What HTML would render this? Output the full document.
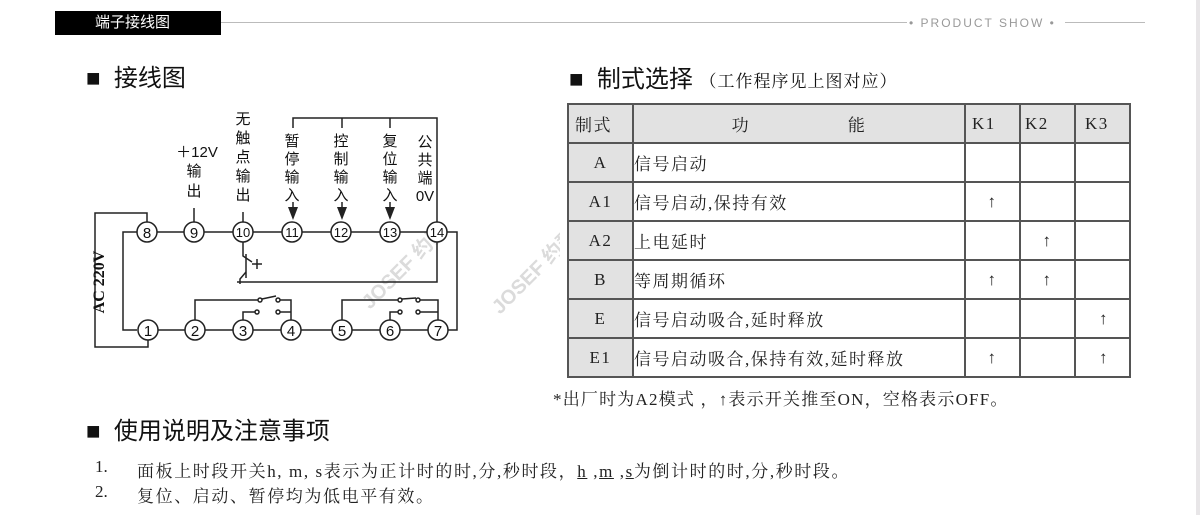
<!DOCTYPE html>
<html><head><meta charset="utf-8"><style>
body{margin:0;width:1200px;height:515px;background:#fff;position:relative;overflow:hidden;font-family:"Liberation Sans","Noto Sans CJK SC",sans-serif;}
.a{position:absolute;white-space:nowrap;}
.serif{font-family:"Liberation Serif","Noto Serif CJK SC",serif;}
table{position:absolute;left:567px;top:103px;border-collapse:collapse;table-layout:fixed;width:562px;font-family:"Liberation Serif","Noto Serif CJK SC",serif;font-size:17px;color:#222;letter-spacing:1.5px;}
td{border:2px solid #555;height:37px;padding:0;overflow:hidden;white-space:nowrap;}
</style></head><body>
<div class="a" style="left:55px;top:11px;width:166px;height:24px;background:#000;color:#fff;font-size:15px;line-height:24px;text-indent:40px;">端子接线图</div>
<div class="a" style="left:221px;top:22px;width:686px;height:1px;background:#bbb"></div>
<div class="a" style="left:909px;top:16px;color:#999;font-size:12px;letter-spacing:2px;">• PRODUCT SHOW •</div>
<div class="a" style="left:1065px;top:22px;width:80px;height:1px;background:#bbb"></div>
<div class="a" style="left:1196px;top:0;width:4px;height:515px;background:#e8e6e8"></div>

<div class="a" style="left:86px;top:58px;font-size:24px;color:#111">■&nbsp; 接线图</div>
<div class="a" style="left:569px;top:59px;font-size:24px;color:#111">■&nbsp; 制式选择 <span class="serif" style="font-size:17px;letter-spacing:1px">（工作程序见上图对应）</span></div>
<div class="a" style="left:86px;top:411px;font-size:24px;color:#111">■&nbsp; 使用说明及注意事项</div>

<svg class="a" style="left:0;top:0" width="560" height="400" font-family="Liberation Sans,Noto Sans CJK SC,sans-serif" font-size="15" fill="none" stroke="#222" stroke-width="1.5">
<g fill="#ccc" stroke="none" font-size="20" font-weight="bold" opacity="0.7">
<text transform="translate(370,310) rotate(-45)">JOSEF 约瑟</text>
<text transform="translate(500,315) rotate(-45)">JOSEF 约瑟</text>
</g>
<polyline points="147,222 147,213 95,213 95,347 148,347 148,340"/>
<polyline points="137,232 123,232 123,330 137,330"/>
<polyline points="447,232 457,232 457,330 448,330"/>
<line x1="157" y1="232" x2="184" y2="232"/><line x1="204" y1="232" x2="233" y2="232"/><line x1="253" y1="232" x2="282" y2="232"/><line x1="302" y1="232" x2="331" y2="232"/><line x1="351" y1="232" x2="380" y2="232"/><line x1="400" y1="232" x2="427" y2="232"/>
<line x1="158" y1="330" x2="185" y2="330"/><line x1="205" y1="330" x2="233" y2="330"/><line x1="253" y1="330" x2="281" y2="330"/><line x1="301" y1="330" x2="332" y2="330"/><line x1="352" y1="330" x2="380" y2="330"/><line x1="400" y1="330" x2="428" y2="330"/>
<polyline points="293,128 293,118 437,118 437,222"/>
<line x1="342" y1="118" x2="342" y2="128"/><line x1="390" y1="118" x2="390" y2="128"/>
<line x1="293" y1="202" x2="293" y2="210"/><line x1="342" y1="202" x2="342" y2="210"/><line x1="390" y1="202" x2="390" y2="210"/>
<g fill="#222" stroke="none"><polygon points="288,207 298,207 293,220"/><polygon points="337,207 347,207 342,220"/><polygon points="385,207 395,207 390,220"/></g>
<line x1="194" y1="208" x2="194" y2="222"/><line x1="243" y1="212" x2="243" y2="222"/>
<polyline points="243,242 243,256 252,262"/><line x1="246" y1="254" x2="246" y2="278"/><polyline points="246,272 240,279 240,284"/>
<line x1="252" y1="264" x2="262" y2="264"/><line x1="257" y1="259" x2="257" y2="269"/>
<polyline points="237,282 437,282 437,242"/>
<polyline points="195,320 195,300 258,300"/><circle cx="260" cy="300" r="2"/><line x1="262" y1="299" x2="276" y2="296"/><circle cx="278" cy="300" r="2"/><polyline points="280,300 291,300 291,320"/>
<polyline points="243,320 243,312 255,312"/><circle cx="257" cy="312" r="2"/><circle cx="278" cy="312" r="2"/><line x1="280" y1="312" x2="291" y2="312"/>
<polyline points="342,320 342,300 398,300"/><circle cx="400" cy="300" r="2"/><line x1="402" y1="299" x2="416" y2="298"/><circle cx="418" cy="300" r="2"/><polyline points="420,300 438,300 438,320"/>
<polyline points="390,320 390,312 398,312"/><circle cx="400" cy="312" r="2"/><circle cx="418" cy="312" r="2"/><line x1="420" y1="312" x2="438" y2="312"/>
<g fill="#fff" stroke="#222" stroke-width="1.5">
<circle cx="147" cy="232" r="10"/><circle cx="194" cy="232" r="10"/><circle cx="243" cy="232" r="10"/><circle cx="292" cy="232" r="10"/><circle cx="341" cy="232" r="10"/><circle cx="390" cy="232" r="10"/><circle cx="437" cy="232" r="10"/>
<circle cx="148" cy="330" r="10"/><circle cx="195" cy="330" r="10"/><circle cx="243" cy="330" r="10"/><circle cx="291" cy="330" r="10"/><circle cx="342" cy="330" r="10"/><circle cx="390" cy="330" r="10"/><circle cx="438" cy="330" r="10"/>
</g>
<g fill="#111" stroke="none" font-size="15" text-anchor="middle">
<text x="147" y="238">8</text><text x="194" y="238">9</text><text x="243" y="237" font-size="13">10</text><text x="292" y="237" font-size="13">11</text><text x="341" y="237" font-size="13">12</text><text x="390" y="237" font-size="13">13</text><text x="437" y="237" font-size="13">14</text>
<text x="148" y="336">1</text><text x="195" y="336">2</text><text x="243" y="336">3</text><text x="291" y="336">4</text><text x="342" y="336">5</text><text x="390" y="336">6</text><text x="438" y="336">7</text>
<text x="197" y="157">＋12V</text><text x="194" y="176">输</text><text x="194" y="196">出</text>
<text x="243" y="124">无</text><text x="243" y="143">触</text><text x="243" y="162">点</text><text x="243" y="181">输</text><text x="243" y="200">出</text>
<text x="292" y="146">暂</text><text x="292" y="164">停</text><text x="292" y="182">输</text><text x="292" y="200">入</text>
<text x="341" y="146">控</text><text x="341" y="164">制</text><text x="341" y="182">输</text><text x="341" y="200">入</text>
<text x="390" y="146">复</text><text x="390" y="164">位</text><text x="390" y="182">输</text><text x="390" y="200">入</text>
<text x="425" y="147">公</text><text x="425" y="165">共</text><text x="425" y="183">端</text><text x="425" y="201">0V</text>
<text transform="translate(104,282) rotate(-90)" font-family="Liberation Serif,serif" font-weight="bold" font-size="16">AC 220V</text>
</g>
</svg>

<table>
<colgroup><col style="width:65px"><col style="width:332px"><col style="width:55px"><col style="width:55px"><col style="width:55px"></colgroup>
<tr style="background:#e2e2e2"><td style="padding-left:6px">制式</td><td style="text-align:center">功&nbsp;&nbsp;&nbsp;&nbsp;&nbsp;&nbsp;&nbsp;&nbsp;&nbsp;&nbsp;&nbsp;&nbsp;&nbsp;&nbsp;&nbsp;&nbsp;&nbsp;能</td><td style="padding-left:6px">K1</td><td style="padding-left:4px">K2</td><td style="padding-left:9px">K3</td></tr>
<tr><td style="background:#e2e2e2;text-align:center">A</td><td>信号启动</td><td></td><td></td><td></td></tr>
<tr><td style="background:#e2e2e2;text-align:center">A1</td><td>信号启动,保持有效</td><td style="text-align:center">↑</td><td></td><td></td></tr>
<tr><td style="background:#e2e2e2;text-align:center">A2</td><td>上电延时</td><td></td><td style="text-align:center">↑</td><td></td></tr>
<tr><td style="background:#e2e2e2;text-align:center">B</td><td>等周期循环</td><td style="text-align:center">↑</td><td style="text-align:center">↑</td><td></td></tr>
<tr><td style="background:#e2e2e2;text-align:center">E</td><td>信号启动吸合,延时释放</td><td></td><td></td><td style="text-align:right;padding-right:20px">↑</td></tr>
<tr><td style="background:#e2e2e2;text-align:center">E1</td><td>信号启动吸合,保持有效,延时释放</td><td style="text-align:center">↑</td><td></td><td style="text-align:right;padding-right:20px">↑</td></tr>
</table>
<div class="a serif" style="left:553px;top:385px;font-size:17px;letter-spacing:1.2px;color:#222">*出厂时为A2模式 ，↑表示开关推至ON，空格表示OFF。</div>
<div class="a serif" style="left:95px;top:457px;font-size:17px;color:#222">1.</div>
<div class="a serif" style="left:137px;top:457px;font-size:17px;letter-spacing:1.6px;color:#222">面板上时段开关h, m, s表示为正计时的时,分,秒时段，<u>h</u> ,<u>m</u> ,<u>s</u>为倒计时的时,分,秒时段。</div>
<div class="a serif" style="left:95px;top:482px;font-size:17px;color:#222">2.</div>
<div class="a serif" style="left:137px;top:482px;font-size:17px;letter-spacing:1.6px;color:#222">复位、启动、暂停均为低电平有效。</div>
</body></html>
